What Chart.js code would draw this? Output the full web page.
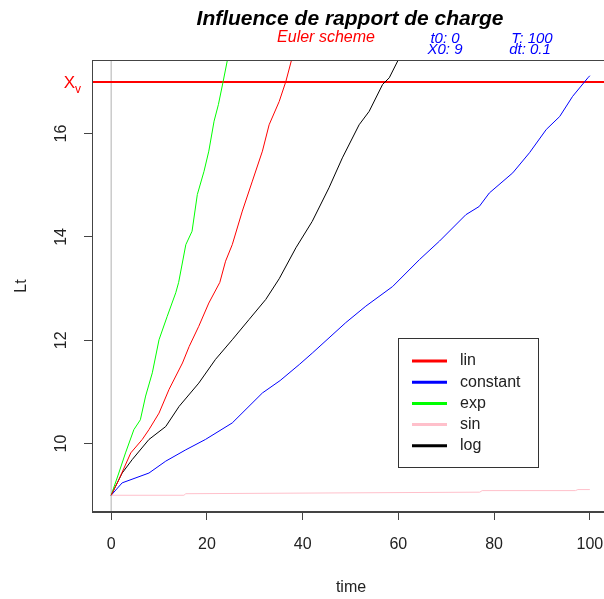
<!DOCTYPE html>
<html>
<head>
<meta charset="utf-8">
<title>Influence de rapport de charge</title>
<script src="https://cdn.jsdelivr.net/npm/chart.js@4"></script>
<style>
  body { margin: 0; background: #fff; overflow: hidden; }
  #wrap { width: 604px; height: 599px; overflow: hidden; }
</style>
</head>
<body>
<div id="wrap"><canvas id="plot" width="620" height="599"></canvas></div>
<script>
// Euler trajectories of Lt for each load-ratio shape (t0 = 0, T = 100, X0 = 9, dt = 0.1)
const linT = [0, 1.6, 4.1, 6.5, 7.9, 10.0, 12.1, 14.9, 16.3, 18.3, 20.4, 22.7, 23.9, 25.3, 27.4, 29.5, 31.6, 33.0, 35.1, 36.5, 37.7, 38.5];
const linL = [9.0, 9.30, 9.82, 10.08, 10.27, 10.59, 11.05, 11.56, 11.88, 12.27, 12.72, 13.12, 13.53, 13.85, 14.50, 15.08, 15.66, 16.17, 16.62, 17.01, 17.43, 17.6];

const constT = [0, 2.3, 7.9, 11.4, 15.6, 19.7, 25.3, 31.6, 35.3, 39.3, 42.0, 49.0, 53.2, 58.8, 64.4, 68.6, 74.1, 76.9, 79.0, 83.9, 87.4, 90.9, 93.7, 96.4, 99.6, 100];
const constL = [9.0, 9.24, 9.43, 9.66, 9.88, 10.08, 10.40, 10.98, 11.22, 11.53, 11.75, 12.34, 12.66, 13.04, 13.56, 13.92, 14.43, 14.59, 14.85, 15.24, 15.63, 16.08, 16.33, 16.72, 17.08, 17.12];

const expT = [0, 1.6, 3.0, 4.75, 6.1, 7.2, 8.6, 10.0, 11.7, 13.5, 14.1, 15.6, 16.9, 18.0, 19.4, 20.4, 21.5, 22.4, 23.4, 24.3, 25.0];
const expL = [9.0, 9.43, 9.82, 10.27, 10.46, 10.92, 11.37, 12.01, 12.46, 12.92, 13.12, 13.85, 14.11, 14.82, 15.27, 15.66, 16.24, 16.56, 17.01, 17.43, 17.6];

const sinT = [0, 15.2, 15.6, 77.0, 77.5, 97.0, 97.5, 100];
const sinL = [9.0, 9.0, 9.03, 9.06, 9.09, 9.09, 9.11, 9.11];

const logT = [0, 2.3, 4.4, 7.9, 11.4, 14.2, 18.3, 21.8, 25.3, 28.8, 32.3, 35.1, 38.6, 42.0, 45.5, 48.3, 51.8, 53.9, 56.7, 58.1, 60.0, 61.0];
const logL = [9.0, 9.43, 9.69, 10.08, 10.33, 10.72, 11.17, 11.63, 12.01, 12.40, 12.79, 13.19, 13.79, 14.30, 14.95, 15.53, 16.17, 16.43, 16.95, 17.08, 17.43, 17.6];

const xTicks = [0, 20, 40, 60, 80, 100];
const yTicks = [10, 12, 14, 16];
const xv = 17;   // threshold X_v
const t0 = 0;

const FONT = '"Liberation Sans", Arial, sans-serif';
const pts = (t, l) => t.map((v, i) => ({ x: v, y: l[i] }));

const series = [
  { label: 'lin', color: '#ff0000', data: pts(linT, linL) },
  { label: 'constant', color: '#0000ff', data: pts(constT, constL) },
  { label: 'exp', color: '#00ff00', data: pts(expT, expL) },
  { label: 'sin', color: '#ffc0cb', data: pts(sinT, sinL) },
  { label: 'log', color: '#000000', data: pts(logT, logL) }
];

const datasets = series.map(s => ({
  label: s.label, data: s.data, borderColor: s.color, borderWidth: 1, inLegend: true
}));
datasets.push({ label: 'Xv', data: [{ x: -4, y: xv }, { x: 104, y: xv }], borderColor: '#ff0000', borderWidth: 2 });
datasets.push({ label: 't0', data: [{ x: t0, y: 8.676 }, { x: t0, y: 17.424 }], borderColor: '#b0b0b0', borderWidth: 1 });

// box, tick labels, titles and legend, R style
const decor = {
  id: 'decor',
  afterDraw(chart) {
    const { ctx, chartArea: a, scales: { x, y } } = chart;
    ctx.save();
    ctx.strokeStyle = '#444';
    ctx.lineWidth = 1;
    ctx.strokeRect(a.left + 0.5, a.top + 0.5, a.right - a.left - 1, a.bottom - a.top - 1);

    ctx.fillStyle = '#222';
    ctx.font = '16px ' + FONT;
    ctx.textAlign = 'center';
    ctx.textBaseline = 'middle';
    xTicks.forEach(v => ctx.fillText(String(v), x.getPixelForValue(v), 545));
    yTicks.forEach(v => {
      ctx.save();
      ctx.translate(62, y.getPixelForValue(v));
      ctx.rotate(-Math.PI / 2);
      ctx.fillText(String(v), 0, 0);
      ctx.restore();
    });

    // axis titles
    ctx.fillText('time', 351, 588);
    ctx.save();
    ctx.translate(22, 286);
    ctx.rotate(-Math.PI / 2);
    ctx.fillText('Lt', 0, 0);
    ctx.restore();

    // main title and annotations
    ctx.textBaseline = 'alphabetic';
    ctx.fillStyle = '#000';
    ctx.font = 'italic bold 21px ' + FONT;
    ctx.fillText('Influence de rapport de charge', 350, 25);
    ctx.fillStyle = '#ff0000';
    ctx.font = 'italic 16px ' + FONT;
    ctx.fillText('Euler scheme', 326, 42);
    ctx.fillStyle = '#0000ff';
    ctx.font = 'italic 15px ' + FONT;
    ctx.fillText('t0: 0', 445, 43);
    ctx.fillText('X0: 9', 445, 54);
    ctx.fillText('T: 100', 532, 43);
    ctx.fillText('dt: 0.1', 530, 54);

    // X_v label next to the threshold
    const yv = y.getPixelForValue(xv);
    ctx.fillStyle = '#ff0000';
    ctx.textAlign = 'right';
    ctx.font = '17px ' + FONT;
    ctx.fillText('X', 75, yv + 6);
    ctx.textAlign = 'left';
    ctx.font = '12px ' + FONT;
    ctx.fillText('v', 75, yv + 11);

    // legend
    const lx = 398, ly = 338, lw = 140, lh = 129;
    ctx.strokeStyle = '#333';
    ctx.strokeRect(lx + 0.5, ly + 0.5, lw, lh);
    ctx.font = '16px ' + FONT;
    ctx.textBaseline = 'middle';
    chart.data.datasets.filter(d => d.inLegend).forEach((d, i) => {
      const ry = 361 + i * 21.2;
      ctx.strokeStyle = d.borderColor;
      ctx.lineWidth = 3;
      ctx.beginPath();
      ctx.moveTo(412, ry);
      ctx.lineTo(447, ry);
      ctx.stroke();
      ctx.fillStyle = '#222';
      ctx.fillText(d.label, 460, ry);
    });
    ctx.restore();
  }
};

new Chart(document.getElementById('plot'), {
  type: 'line',
  data: { datasets },
  options: {
    responsive: false,
    animation: false,
    devicePixelRatio: 1,
    layout: { padding: { top: 60, right: 11, left: 0, bottom: 0 } },
    plugins: { legend: { display: false }, title: { display: false }, tooltip: { enabled: false } },
    elements: { point: { radius: 0 }, line: { tension: 0 } },
    scales: {
      x: {
        type: 'linear', min: -4, max: 104,
        afterBuildTicks: s => { s.ticks = xTicks.map(v => ({ value: v })); },
        afterFit: s => { s.height = 87; },
        ticks: { display: false },
        grid: { drawOnChartArea: false, tickLength: 8, color: '#444' },
        border: { color: '#444' }
      },
      y: {
        type: 'linear', min: 8.676, max: 17.424,
        afterBuildTicks: s => { s.ticks = yTicks.map(v => ({ value: v })); },
        afterFit: s => { s.width = 92; },
        ticks: { display: false },
        grid: { drawOnChartArea: false, tickLength: 8, color: '#444' },
        border: { color: '#444' }
      }
    }
  },
  plugins: [decor]
});
</script>
</body>
</html>
